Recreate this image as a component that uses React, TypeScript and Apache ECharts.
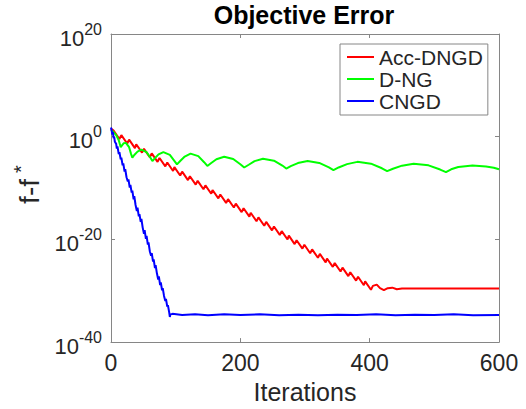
import React, { useEffect, useRef } from "react";
import * as echarts from "echarts";

// Iterations (x) and log10(f - f*) (y)
const seriesNames = ["Acc-DNGD", "D-NG", "CNGD"];
const xTicks = [0, 200, 400, 600];
const yExponents = [-40, -20, 0, 20];

const accDngd: [number, number][] = [
  [0, 1.6], [4, 1.2], [13, -0.44], [16, 0.31], [25, -1.33], [28, -0.58], [37, -2.22], [39, -1.47],
  [48, -3.11], [51, -2.36], [60, -4.0], [63, -3.25], [72, -4.89], [75, -4.14], [84, -5.78], [87, -5.03],
  [96, -6.67], [98, -5.92], [107, -7.56], [110, -6.81], [119, -8.45], [122, -7.7], [131, -9.34], [134, -8.59],
  [143, -10.23], [146, -9.48], [155, -11.12], [157, -10.37], [166, -12.01], [169, -11.26], [178, -12.9], [181, -12.15],
  [190, -13.79], [193, -13.04], [202, -14.68], [205, -13.93], [214, -15.57], [216, -14.82], [225, -16.46], [228, -15.71],
  [237, -17.35], [240, -16.6], [249, -18.24], [252, -17.49], [261, -19.13], [264, -18.38], [273, -20.02], [275, -19.27],
  [284, -20.91], [287, -20.16], [296, -21.8], [299, -21.05], [308, -22.69], [311, -21.94], [320, -23.58], [323, -22.83],
  [332, -24.47], [334, -23.72], [343, -25.36], [346, -24.61], [355, -26.25], [358, -25.5], [367, -27.14], [370, -26.39],
  [379, -28.03], [382, -27.28], [391, -28.92], [393, -28.17], [402, -29.81], [405, -29.06], [411, -28.8], [416, -29.5],
  [422, -29.9], [428, -29.5], [435, -29.4], [442, -29.7], [450, -29.55], [600, -29.55],
];

const dNg: [number, number][] = [
  [0, 1.3], [4, 0.9], [8, 0.3], [12, -0.7], [15, -2.05],
  [17, -1.7], [19.5, -1.29], [23, -1.2], [28, -2.04], [31, -3.34], [33, -4.1],
  [36, -3.57], [41, -2.9], [47, -2.5], [55, -3.01], [61, -4.09], [64, -4.75],
  [68, -4.18], [73.5, -3.45], [81, -3.0], [91, -3.54], [98, -4.7], [102, -5.4],
  [107, -4.73], [114, -3.87], [123, -3.3], [135, -3.78], [144, -4.97], [149, -5.7],
  [155, -5.13], [163, -4.39], [175, -3.9], [189, -4.33], [200, -5.37], [206, -6.0],
  [213, -5.46], [222, -4.76], [235, -4.3], [252, -4.67], [265, -5.62], [271, -6.2],
  [278, -5.73], [289, -5.14], [304, -4.75], [322, -5.11], [337, -5.97], [344, -6.5],
  [352, -5.99], [365, -5.34], [381, -4.9], [402, -5.25], [419, -6.15], [427, -6.7],
  [436, -6.24], [450, -5.64], [468, -5.25], [491, -5.58], [509, -6.4], [518, -6.9],
  [526, -6.35], [537, -5.9], [559, -5.6], [580, -5.8], [592, -6.05], [600, -6.35],
];

const cngd: [number, number][] = [
  [0, 1.8], [1, 1.2], [2, 0.4], [3, 0.9], [4, -0.3], [5, -0.1], [6, -1.0], [8, -1.4], [9, -2.3], [10, -1.9],
  [12, -3.4], [13, -3.0], [15, -4.4], [16, -4.1], [18, -5.6], [19, -5.2], [21, -6.8], [22, -6.3], [24, -7.9],
  [26, -8.7], [27, -8.3], [29, -9.9], [30, -9.4], [32, -10.9], [33, -10.5], [35, -12.2], [36, -11.6], [38, -13.3],
  [40, -14.5], [41, -13.8], [43, -15.5], [44, -15.1], [46, -16.6], [47, -16.0], [49, -17.7], [51, -18.9],
  [52, -18.2], [54, -19.9], [55, -19.3], [57, -21.0], [58, -20.6], [60, -22.3], [62, -23.2], [63, -22.7],
  [65, -24.3], [66, -23.9], [68, -25.6], [69, -25.0], [71, -26.6], [73, -27.8], [74, -27.2], [76, -28.9],
  [77, -28.4], [79, -29.9], [80, -29.5], [82, -31.0], [84, -32.0], [85, -31.6], [87, -33.1], [88, -32.8],
  [90, -34.2], [91, -35.1], [92, -34.6], [95, -34.5], [110, -34.7], [130, -34.6], [150, -34.75], [175, -34.6],
  [200, -34.7], [230, -34.6], [260, -34.75], [290, -34.65], [320, -34.75], [350, -34.65], [380, -34.7],
  [410, -34.6], [440, -34.75], [470, -34.65], [500, -34.7], [530, -34.6], [560, -34.75], [600, -34.7],
];

const seriesColors = ["#ff0000", "#00ff00", "#0000ff"];

const FONT = "'Liberation Sans', Arial, Helvetica, sans-serif";
const TEXT = "#262626";
const AXIS = "#868686";

export default function App() {
  const ref = useRef<HTMLDivElement>(null);
  useEffect(() => {
    if (!ref.current) return;
    const chart = echarts.init(ref.current, null, { renderer: "svg" });
    const yLabel = (v: number) => `{b|10}{s|${Math.round(v)}}`;
    const tickCommon = { show: true, inside: true, length: 4, lineStyle: { color: AXIS, width: 1 } };
    const lineCommon = { show: true, onZero: false, lineStyle: { color: AXIS, width: 1 } };
    const xBase = {
      type: "value",
      min: xTicks[0],
      max: xTicks[xTicks.length - 1],
      interval: xTicks[1] - xTicks[0],
      axisLine: lineCommon,
      axisTick: tickCommon,
      splitLine: { show: false },
    };
    const yBase = {
      type: "value",
      min: yExponents[0],
      max: yExponents[yExponents.length - 1],
      interval: yExponents[1] - yExponents[0],
      axisLine: lineCommon,
      axisTick: tickCommon,
      splitLine: { show: false },
    };
    chart.setOption({
      animation: false,
      backgroundColor: "#ffffff",
      textStyle: { fontFamily: FONT },
      title: {
        text: "Objective Error",
        left: 304,
        top: 2,
        textAlign: "center",
        padding: 0,
        textStyle: { fontFamily: FONT, fontWeight: "bold", fontSize: 25, color: "#000" },
      },
      legend: {
        data: seriesNames,
        orient: "vertical",
        left: 340,
        top: 44,
        padding: [2, 5, 3, 7],
        itemGap: 0,
        itemWidth: 27,
        itemHeight: 2,
        icon: "rect",
        borderColor: AXIS,
        borderWidth: 1,
        backgroundColor: "#fff",
        textStyle: { fontFamily: FONT, fontSize: 21, color: TEXT, lineHeight: 22 },
      },
      grid: { left: 111, top: 34, width: 388, height: 312, show: false },
      xAxis: [
        {
          ...xBase,
          position: "bottom",
          axisLabel: { fontFamily: FONT, fontSize: 23, color: TEXT, margin: 9 },
          name: "Iterations",
          nameLocation: "middle",
          nameGap: 30,
          nameTextStyle: { fontFamily: FONT, fontSize: 25, color: TEXT },
        },
        { ...xBase, position: "top", axisLabel: { show: false } },
      ],
      yAxis: [
        {
          ...yBase,
          position: "left",
          axisLabel: {
            formatter: yLabel,
            margin: 9,
            padding: [2, 0, 0, 0],
            color: TEXT,
            rich: {
              b: { fontFamily: FONT, fontSize: 22, color: TEXT, lineHeight: 28, verticalAlign: "bottom" },
              s: { fontFamily: FONT, fontSize: 16, color: TEXT, lineHeight: 10, verticalAlign: "top" },
            },
          },
          name: "{a|f-f}{b|*}",
          nameLocation: "middle",
          nameGap: 68,
          nameTextStyle: {
            color: TEXT,
            rich: {
              a: { fontFamily: FONT, fontSize: 28, color: TEXT, lineHeight: 32, verticalAlign: "bottom", padding: [0, 0, 0, 7] },
              b: { fontFamily: FONT, fontSize: 20, color: TEXT, lineHeight: 12, verticalAlign: "top", padding: [0, 0, 0, 6] },
            },
          },
        },
        { ...yBase, position: "right", axisLabel: { show: false } },
      ],
      series: [accDngd, dNg, cngd].map((pts, i) => ({
        name: seriesNames[i],
        type: "line",
        xAxisIndex: 0,
        yAxisIndex: 0,
        data: pts,
        showSymbol: false,
        symbol: "none",
        smooth: false,
        lineStyle: { color: seriesColors[i], width: 2 },
        itemStyle: { color: seriesColors[i] },
        z: 2 + i,
      })),
    });
    return () => chart.dispose();
  }, []);
  return (
    <div
      ref={ref}
      style={{ position: "absolute", left: 0, top: 0, width: 526, height: 409, background: "#fff" }}
    />
  );
}
